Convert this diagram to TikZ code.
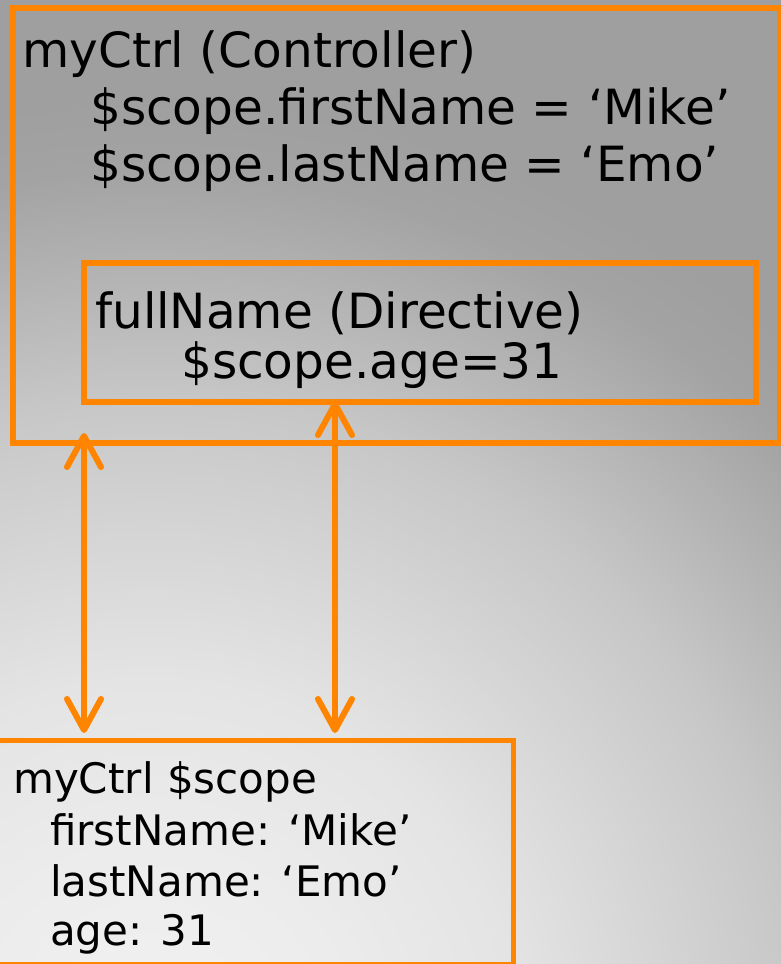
\documentclass[tikz,border=0pt]{standalone}
\usepackage{fontspec}
\setmainfont{DejaVu Sans}
\usetikzlibrary{arrows.meta}
\definecolor{orng}{RGB}{255,133,0}
\definecolor{gA}{RGB}{242,242,242}
\definecolor{gB}{RGB}{236,236,236}
\definecolor{gC}{RGB}{228,228,228}
\definecolor{gM}{RGB}{199,199,199}
\definecolor{gE}{RGB}{163,163,163}
\definecolor{gD}{RGB}{159,159,159}
\pgfdeclareradialshading{bgrad}{\pgfpoint{0bp}{0bp}}{%
  color(0bp)=(gA); color(3.85bp)=(gB); color(7.1bp)=(gC);
  color(12.5bp)=(gM); color(16.9bp)=(gE); color(18.3bp)=(gD); color(50bp)=(gD)}
\tikzset{
  boxline/.style={draw=orng, line width=6pt, minimum width=#1, anchor=north west, inner sep=0pt},
  bigtext/.style={anchor=base west, inner sep=0pt, font=\fontsize{48.5}{58}\selectfont},
  smalltext/.style={anchor=base west, inner sep=0pt, font=\fontsize{42}{50}\selectfont},
  link/.style={draw=orng, line width=6pt,
    {Straight Barb[length=31pt,width=34pt,round]}-{Straight Barb[length=31pt,width=34pt,round]}}
}
\begin{document}
\begin{tikzpicture}[x=1pt,y=-1pt]
\clip (0,0) rectangle (781,964);
\shade[shading=bgrad] (-1150,-250) rectangle (1450,2350);
% controller box
\node[boxline=767pt, minimum height=435pt] (ctrl) at (10,5) {};
\node[bigtext] (t1) at (22,67) {myCtrl (Controller)};
\node[bigtext] (t2) at (90,124) {\$scope.firstName = ‘Mike’};
\node[bigtext] (t3) at (90,181) {\$scope.lastName = ‘Emo’};
% directive box
\node[boxline=672pt, minimum height=139pt] (dir) at (81,260) {};
\node[bigtext] (t4) at (95,328) {fullName (Directive)};
\node[bigtext] (t5) at (181,378) {\$scope.age=31};
% scope box
\node[boxline=516pt, minimum height=224pt, line width=5pt] (scp) at (-5,738) {};
\node[smalltext] (s1) at (13,793) {myCtrl \$scope};
\node[smalltext] (s2) at (50,845) {firstName: ‘Mike’};
\node[smalltext] (s3) at (50,896) {lastName: ‘Emo’};
\node[smalltext] (s4) at (50,945) {age: 31};
% connectors
\coordinate (la) at (84,433);
\coordinate (lb) at (84,733);
\coordinate (ra) at (335,401);
\coordinate (rb) at (335,733);
\draw[link] (la) -- (lb);
\draw[link] (ra) -- (rb);
\end{tikzpicture}
\end{document}
